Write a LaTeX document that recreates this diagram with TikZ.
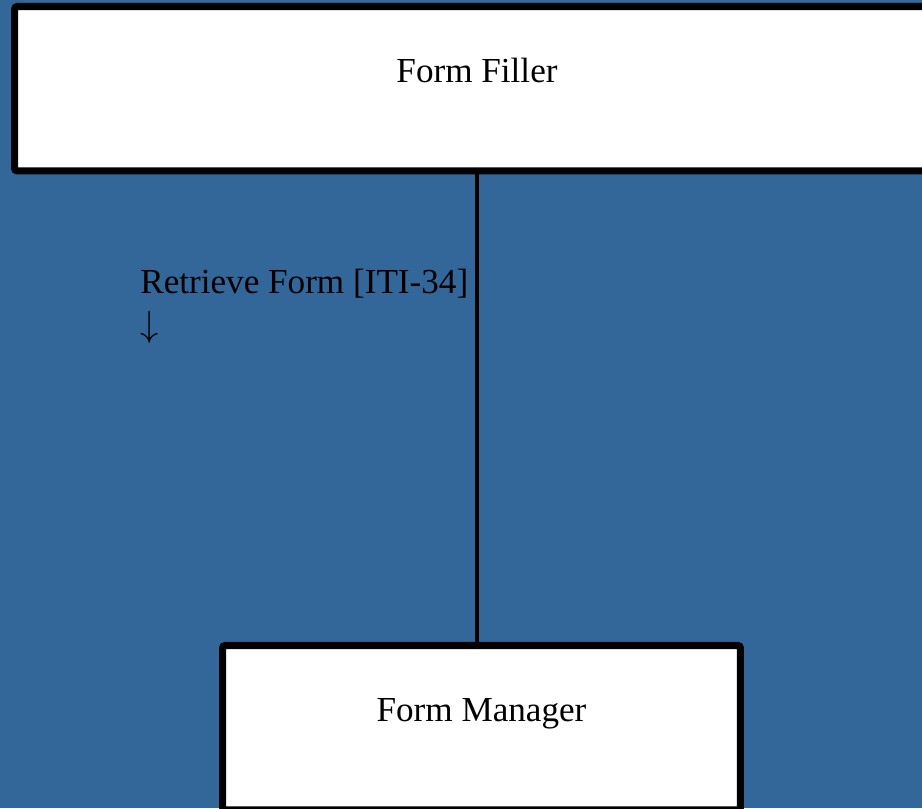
\documentclass[tikz,border=0pt]{standalone}
\usepackage{fontspec}
\setmainfont{Liberation Serif}
\usetikzlibrary{positioning}
\definecolor{bgblue}{RGB}{51,102,153}

\begin{document}
\begin{tikzpicture}[x=0.02cm, y=-0.02cm,
  actor/.style={draw=black, fill=white, line width=4pt, rounded corners=1.5pt,
    inner sep=0pt, outer sep=0pt, text height=1.53cm, text depth=1.76cm,
    font=\fontsize{20}{24}\selectfont},
  link/.style={draw=black, line width=2.8pt},
  msg/.style={align=left, inner sep=0pt, font=\fontsize{20}{24}\selectfont}]
\path[use as bounding box, fill=bgblue] (0,0) rectangle (922,808);
\clip (0,0) rectangle (922,808);
\node[actor, minimum width=18.5cm, anchor=north] (filler) at (477,6.5) {Form Filler};
\node[actor, minimum width=10.36cm, anchor=north] (manager) at (481.5,645.5) {Form Manager};
\draw[link] (filler.south) -- (filler.south |- manager.north);
\node[msg, anchor=base west] (retrieve) at (140,336) {Retrieve Form [ITI-34]\\$\downarrow$};
\end{tikzpicture}
\end{document}
